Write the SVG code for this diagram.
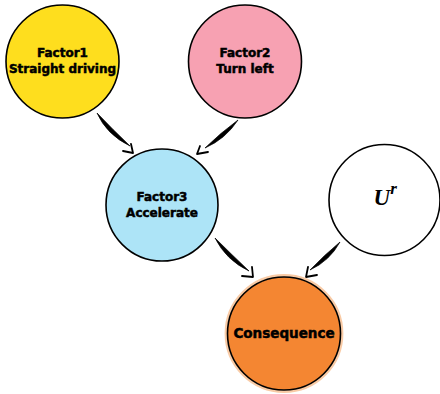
<svg xmlns="http://www.w3.org/2000/svg" width="440" height="394" viewBox="0 0 440 394">
<style>
.node{stroke:#000;stroke-width:1.6}
.lbl{font-family:"DejaVu Sans","Liberation Sans",sans-serif;font-weight:bold;font-size:12px;text-anchor:middle;fill:#000;stroke:#000;stroke-width:0.5}
.brush{fill:#000;stroke:#000;stroke-width:0.7;stroke-linejoin:round}
.head{fill:none;stroke:#000;stroke-width:1.8;stroke-linecap:round;stroke-linejoin:round}
</style>
<rect width="440" height="394" fill="#fff"/>
<g id="connectors">
  <g id="e1">
    <path class="brush" d="M97,113 Q106.7,134.8 130,146 Q112.3,129.2 97,113 Z"/>
    <polyline class="head" points="123,151 133,153 131,144"/>
  </g>
  <g id="e2">
    <path class="brush" d="M238,120 Q225.6,139 205,148 Q220.4,133 238,120 Z"/>
    <polyline class="head" points="200,146 197,154 208,152"/>
  </g>
  <g id="e3">
    <path class="brush" d="M215,238 Q226.2,260.3 249,271 Q231.8,254.7 215,238 Z"/>
    <polyline class="head" points="242,276 253,277 252,267"/>
  </g>
  <g id="e4">
    <path class="brush" d="M340,242 Q329.7,260.9 310,270 Q324.3,255.1 340,242 Z"/>
    <polyline class="head" points="308,267 306,277 317,275"/>
  </g>
</g>
<g id="factor1">
  <circle class="node" cx="62.5" cy="61.5" r="56.5" fill="#FEDE1E"/>
  <text class="lbl" x="62.5" y="57.3">Factor1</text>
  <text class="lbl" x="62.5" y="72.5">Straight driving</text>
</g>
<g id="factor2">
  <circle class="node" cx="245" cy="61.5" r="56.5" fill="#F7A1B2"/>
  <text class="lbl" x="245" y="57.3">Factor2</text>
  <text class="lbl" x="245" y="72.5">Turn left</text>
</g>
<g id="factor3">
  <circle class="node" cx="162" cy="205" r="56" fill="#ADE4F7"/>
  <text class="lbl" x="162" y="200.7">Factor3</text>
  <text class="lbl" x="162" y="216.5">Accelerate</text>
</g>
<g id="ur">
  <circle class="node" cx="384.5" cy="200" r="55.5" fill="#fff"/>
  <text x="373.5" y="204.5" font-family="'Liberation Serif',serif" font-weight="bold" font-style="italic" font-size="23" fill="#000">U<tspan font-size="17" dy="-10.5">r</tspan></text>
</g>
<g id="consequence">
  <circle cx="284" cy="333.5" r="58" fill="none" stroke="#F9CBA6" stroke-width="2.8"/>
  <circle class="node" cx="284" cy="333.5" r="56.5" fill="#F48632"/>
  <text class="lbl" x="284" y="337.7" style="font-size:13.5px">Consequence</text>
</g>
</svg>
